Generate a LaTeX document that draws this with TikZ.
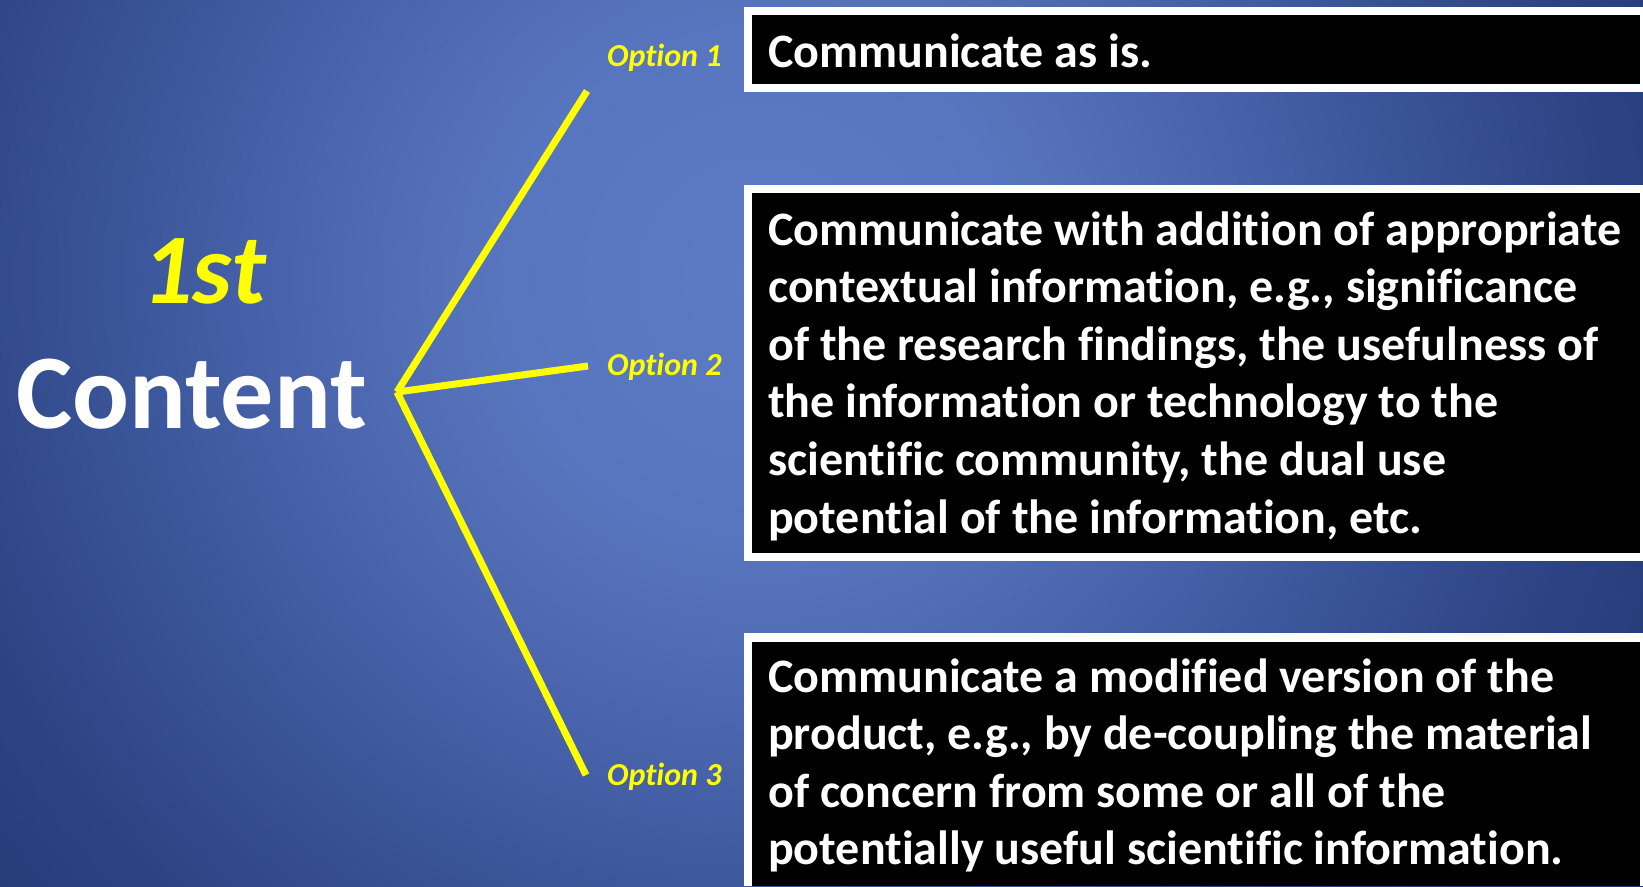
\documentclass[tikz,border=0pt]{standalone}
\usepackage{fontspec}
\setmainfont{Carlito}[Ligatures={NoCommon}]
\definecolor{bgA}{HTML}{5C7BC4}
\definecolor{bgB}{HTML}{5876BF}
\definecolor{bgC}{HTML}{4B66AE}
\definecolor{bgD}{HTML}{3A5498}
\definecolor{bgE}{HTML}{2C4383}
\definecolor{bgF}{HTML}{22356F}
\definecolor{optyellow}{HTML}{FFFF00}
\pgfdeclareradialshading{bgshade}{\pgfpoint{0bp}{0bp}}{color(0bp)=(bgA); color(5.7bp)=(bgB); color(10.2bp)=(bgC); color(14.8bp)=(bgD); color(19.3bp)=(bgE); color(25bp)=(bgF); color(50bp)=(bgF)}
\tikzset{
  boxtext/.style={anchor=base west, inner sep=0pt, text=white, font=\fontsize{48}{57.6}\selectfont\bfseries},
  optlabel/.style={anchor=base west, inner sep=0pt, text=optyellow, font=\fontsize{32}{32}\selectfont\bfseries\itshape},
  branch/.style={draw=optyellow, line width=7pt, line cap=butt},
  frameouter/.style={fill=white},
  frameinner/.style={fill=black}
}
\begin{document}
\begin{tikzpicture}[x=1pt,y=-1pt]
\useasboundingbox (0,0) rectangle (1643,886);
\fill[bgF] (0,0) rectangle (1643,886);
\begin{scope}
\clip (0,0) rectangle (1643,886);
\shade[shading=bgshade] (760,280) circle (1100pt);
\end{scope}

% boxes
\fill[frameouter] (744,7) rectangle (1643,92);
\fill[frameinner] (752,15) rectangle (1640,84);
\fill[frameouter] (744,185) rectangle (1643,561);
\fill[frameinner] (752,193) rectangle (1640,553);
\fill[frameouter] (744,633) rectangle (1643,886);
\fill[frameinner] (752,642) rectangle (1640,886);

\node[boxtext] (t1) at (768,67) {Communicate as is.};
\node[boxtext] (t2) at (768,245) {\parbox[t]{900pt}{\raggedright
Communicate with addition of appropriate\\
contextual information, e.g., significance\\
of the research findings, the usefulness of\\
the information or technology to the\\
scientific community, the dual use\\
potential of the information, etc.}};
\node[boxtext] (t3) at (768,692) {\parbox[t]{900pt}{\raggedright
Communicate a modified version of the\\
product, e.g., by de-coupling the material\\
of concern from some or all of the\\
potentially useful scientific information.}};

% left titles
\node[anchor=base, inner sep=0pt, text=optyellow, font=\fontsize{100}{100}\selectfont\bfseries\itshape] (first) at (204,303) {1st};
\node[anchor=base, inner sep=0pt, text=white, font=\fontsize{106}{106}\selectfont\bfseries] (content) at (191.5,428) {Content};

% branches
\coordinate (hub) at (397,392);
\coordinate (e1) at (587,91);
\coordinate (e2) at (588,366);
\coordinate (e3) at (586,775);
\draw[branch] (e1) -- (hub);
\draw[branch] (e2) -- (hub);
\draw[branch] (e3) -- (hub);

\node[optlabel] (o1) at (607,66) {Option 1};
\node[optlabel] (o2) at (607,375) {Option 2};
\node[optlabel] (o3) at (607,785) {Option 3};
\end{tikzpicture}
\end{document}
